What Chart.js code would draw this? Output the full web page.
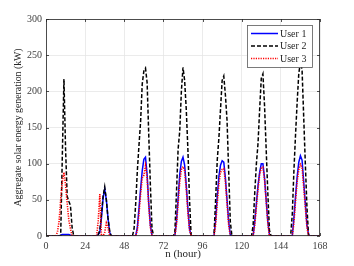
<!DOCTYPE html>
<html lang="en">
<head>
  <meta charset="UTF-8">
  <title>Aggregate solar energy generation</title>
  <script src="https://cdn.jsdelivr.net/npm/chart.js"></script>
  <style>
    html, body { margin: 0; padding: 0; background: #fff; }
    #wrap { width: 354px; height: 266px; }
  </style>
</head>
<body>
  <div id="wrap"><canvas id="solarChart" width="354" height="266"></canvas></div>

<script>
// hourly values, one row per day (24 h), last entry is hour 168
const user1 = [
  0,0,0,0,0,0,0,0,0,1,2,2,2,2,2,1,0,0,0,0,0,0,0,0,
  0,0,0,0,0,0,0,0,2,5,25,52,65,50,25,5,0,0,0,0,0,0,0,0,
  0,0,0,0,0,0,0,0,12,38,65,90,106,109,85,45,15,0,0,0,0,0,0,0,
  0,0,0,0,0,0,0,0,20,52,85,103,109,98,70,38,10,0,0,0,0,0,0,0,
  0,0,0,0,0,0,0,0,22,55,82,98,104,102,80,50,20,2,0,0,0,0,0,0,
  0,0,0,0,0,0,0,0,20,45,70,88,100,100,80,50,20,2,0,0,0,0,0,0,
  0,0,0,0,0,0,0,0,25,55,82,102,111,105,75,45,15,2,0,0,0,0,0,0,
  0
];
const user2 = [
  0,0,0,0,0,0,0,0,0,0,110,217,120,55,48,42,12,0,0,0,0,0,0,0,
  0,0,0,0,0,0,0,0,2,8,30,55,68,50,25,8,0,0,0,0,0,0,0,0,
  0,0,0,0,0,0,10,45,90,125,158,210,228,232,212,140,70,10,0,0,0,0,0,0,
  0,0,0,0,0,0,0,5,60,120,145,200,233,215,175,120,50,0,0,0,0,0,0,0,
  0,0,0,0,0,0,0,0,50,105,135,175,215,221,195,160,90,20,0,0,0,0,0,0,
  0,0,0,0,0,0,0,15,60,100,128,175,218,224,180,120,60,8,0,0,0,0,0,0,
  0,0,0,0,0,0,0,30,90,140,185,225,240,230,165,100,40,0,0,0,0,0,0,0,
  0
];
const user3 = [
  0,0,0,0,0,0,0,5,20,50,75,88,70,45,22,10,0,0,0,0,0,0,0,0,
  0,0,0,0,0,0,0,0,20,58,0,0,5,18,12,0,0,0,0,0,0,0,0,0,
  0,0,0,0,0,0,0,0,8,30,58,80,84,97,80,42,12,0,0,0,0,0,0,0,
  0,0,0,0,0,0,0,0,15,45,75,92,96,90,65,32,8,0,0,0,0,0,0,0,
  0,0,0,0,0,0,0,0,15,45,72,88,92,93,75,45,15,0,0,0,0,0,0,0,
  0,0,0,0,0,0,0,0,15,40,65,85,94,95,78,48,18,0,0,0,0,0,0,0,
  0,0,0,0,0,0,0,0,18,48,75,92,99,95,68,40,12,0,0,0,0,0,0,0,
  0
];
const seriesNames = ['User 1', 'User 2', 'User 3'];
const xTicks = [0, 24, 48, 72, 96, 120, 144, 168];
const yTicks = [0, 50, 100, 150, 200, 250, 300];

const hours = user1.map((_, i) => i);
const toPoints = arr => arr.map((v, i) => ({ x: hours[i], y: v }));

const FONT = '"Liberation Serif", "DejaVu Serif", serif';
const AXIS = '#262626';

// MATLAB style box with inward ticks
const boxPlugin = {
  id: 'box',
  afterDatasetsDraw(chart) {
    const { ctx, chartArea: a, scales } = chart;
    ctx.save();
    ctx.strokeStyle = AXIS;
    ctx.lineWidth = 0.8;
    ctx.strokeRect(a.left + 0.5, a.top + 0.5, a.right - a.left - 1, a.bottom - a.top - 1);
    ctx.beginPath();
    xTicks.forEach(t => {
      const x = Math.round(scales.x.getPixelForValue(t)) + 0.5;
      ctx.moveTo(x, a.bottom); ctx.lineTo(x, a.bottom - 3);
      ctx.moveTo(x, a.top); ctx.lineTo(x, a.top + 3);
    });
    yTicks.forEach(t => {
      const y = Math.round(scales.y.getPixelForValue(t)) + 0.5;
      ctx.moveTo(a.left, y); ctx.lineTo(a.left + 3, y);
      ctx.moveTo(a.right, y); ctx.lineTo(a.right - 3, y);
    });
    ctx.stroke();
    ctx.restore();
  }
};

// legend box inside the top right corner
const legendPlugin = {
  id: 'insideLegend',
  afterDraw(chart) {
    const { ctx, chartArea: a } = chart;
    const w = 65, h = 42;
    const x0 = a.right - 8 - w, y0 = a.top + 6;
    ctx.save();
    ctx.fillStyle = '#fff';
    ctx.fillRect(x0, y0, w, h);
    ctx.strokeStyle = '#5a5a5a';
    ctx.lineWidth = 0.8;
    ctx.strokeRect(x0 + 0.5, y0 + 0.5, w, h);
    chart.data.datasets.forEach((ds, i) => {
      const y = y0 + 8.5 + i * 12.5;
      ctx.beginPath();
      ctx.strokeStyle = ds.borderColor;
      ctx.lineWidth = ds.borderWidth;
      ctx.setLineDash(ds.borderDash || []);
      ctx.moveTo(x0 + 4, y);
      ctx.lineTo(x0 + 31, y);
      ctx.stroke();
      ctx.setLineDash([]);
      ctx.fillStyle = AXIS;
      ctx.font = '10px ' + FONT;
      ctx.textBaseline = 'middle';
      ctx.fillText(ds.label, x0 + 33, y + 0.5);
    });
    ctx.restore();
  }
};

new Chart(document.getElementById('solarChart').getContext('2d'), {
  type: 'line',
  data: {
    datasets: [
      { label: seriesNames[0], data: toPoints(user1), borderColor: '#0000ff', borderWidth: 1.5, order: 3 },
      { label: seriesNames[1], data: toPoints(user2), borderColor: '#000000', borderWidth: 1.5, borderDash: [4, 2], order: 2 },
      { label: seriesNames[2], data: toPoints(user3), borderColor: '#ff0000', borderWidth: 1.6, borderDash: [1.2, 1.2], order: 1 }
    ]
  },
  options: {
    responsive: false,
    animation: false,
    events: [],
    elements: { point: { radius: 0 }, line: { tension: 0 } },
    layout: { padding: { top: 19, right: 34, left: 0, bottom: 0 } },
    plugins: { legend: { display: false }, tooltip: { enabled: false } },
    scales: {
      x: {
        type: 'linear',
        min: 0, max: 168,
        afterBuildTicks: s => { s.ticks = xTicks.map(v => ({ value: v })); },
        afterFit: s => { s.height = 30; },
        grid: { color: '#e6e6e6', lineWidth: 0.8, drawTicks: false },
        border: { display: false },
        ticks: { color: '#404040', padding: 4, maxRotation: 0, font: { family: FONT, size: 10 } },
        title: { display: true, text: 'n (hour)', color: '#262626', padding: { top: 0, bottom: 5 }, font: { family: FONT, size: 11 } }
      },
      y: {
        min: 0, max: 300,
        afterBuildTicks: s => { s.ticks = yTicks.map(v => ({ value: v })); },
        afterFit: s => { s.width = 46; },
        grid: { color: '#e6e6e6', lineWidth: 0.8, drawTicks: false },
        border: { display: false },
        ticks: { color: '#404040', padding: 4, font: { family: FONT, size: 10 } },
        title: { display: true, text: 'Aggregate solar energy generation (kW)', color: '#262626', padding: { top: 13, bottom: 0 }, font: { family: FONT, size: 9.8 } }
      }
    }
  },
  plugins: [boxPlugin, legendPlugin]
});
</script>
</body>
</html>
